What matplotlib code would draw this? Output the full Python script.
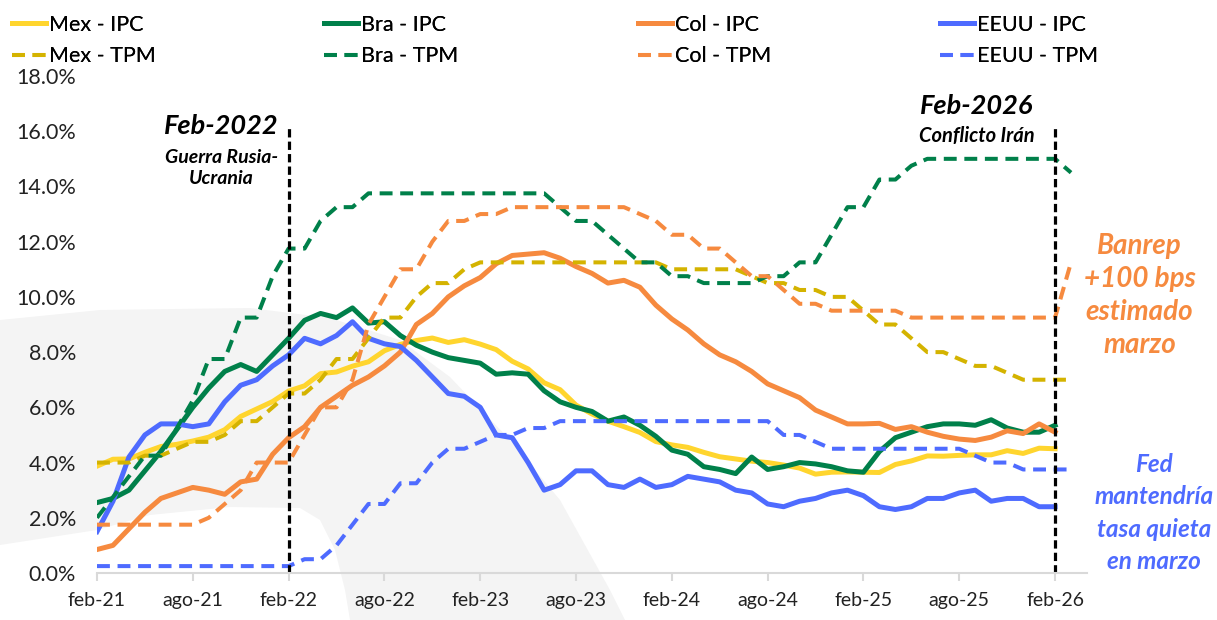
import numpy as np
import matplotlib.pyplot as plt
from matplotlib.patches import Polygon

plt.rcParams['font.family'] = ['Lato', 'DejaVu Sans']

# month index 0 = feb-21 ... 60 = feb-26, 61 = mar-26
tick_labels = ["feb-21", "ago-21", "feb-22", "ago-22", "feb-23", "ago-23",
               "feb-24", "ago-24", "feb-25", "ago-25", "feb-26"]

mex_ipc = [3.87, 4.12, 4.13, 4.37, 4.58, 4.66, 4.78, 4.92, 5.19, 5.67,
           5.94, 6.21, 6.59, 6.78, 7.22, 7.28, 7.49, 7.65, 8.05, 8.28,
           8.42, 8.51, 8.35, 8.45, 8.29, 8.09, 7.67, 7.39, 6.89, 6.64,
           6.08, 5.76, 5.50, 5.30, 5.09, 4.76, 4.64, 4.55, 4.37, 4.21,
           4.13, 4.05, 4.00, 3.91, 3.80, 3.58, 3.65, 3.66, 3.65, 3.64,
           3.93, 4.06, 4.24, 4.23, 4.26, 4.28, 4.28, 4.43, 4.33, 4.52, 4.50]
bra_ipc = [2.55, 2.7, 3.0, 3.7, 4.4, 5.2, 6.0, 6.7, 7.3, 7.55,
           7.3, 7.9, 8.5, 9.15, 9.4, 9.25, 9.6, 9.05, 9.1, 8.6,
           8.25, 8.0, 7.8, 7.7, 7.6, 7.2, 7.25, 7.2, 6.6, 6.2,
           6.0, 5.85, 5.5, 5.65, 5.35, 4.95, 4.45, 4.3, 3.85, 3.75,
           3.6, 4.2, 3.75, 3.85, 4.0, 3.95, 3.85, 3.7, 3.65, 4.4,
           4.9, 5.1, 5.3, 5.4, 5.4, 5.35, 5.55, 5.25, 5.1, 5.1, 5.35]
col_ipc = [0.85, 1.0, 1.6, 2.2, 2.7, 2.9, 3.1, 3.0, 2.85, 3.3,
           3.4, 4.3, 4.9, 5.3, 6.0, 6.4, 6.8, 7.1, 7.5, 8.0,
           9.0, 9.4, 10.0, 10.4, 10.7, 11.2, 11.5, 11.55, 11.6, 11.4,
           11.1, 10.85, 10.5, 10.6, 10.35, 9.7, 9.2, 8.8, 8.3, 7.9,
           7.65, 7.3, 6.85, 6.6, 6.35, 5.9, 5.65, 5.4, 5.4, 5.42,
           5.2, 5.3, 5.1, 4.95, 4.85, 4.8, 4.92, 5.15, 5.05, 5.4, 5.1]
eeuu_ipc = [1.5, 2.6, 4.2, 5.0, 5.4, 5.4, 5.3, 5.4, 6.2, 6.8,
            7.0, 7.5, 7.9, 8.5, 8.3, 8.6, 9.1, 8.5, 8.3, 8.2,
            7.7, 7.1, 6.5, 6.4, 6.0, 5.0, 4.9, 4.0, 3.0, 3.2,
            3.7, 3.7, 3.2, 3.1, 3.4, 3.1, 3.2, 3.5, 3.4, 3.3,
            3.0, 2.9, 2.5, 2.4, 2.6, 2.7, 2.9, 3.0, 2.8, 2.4,
            2.3, 2.4, 2.7, 2.7, 2.9, 3.0, 2.6, 2.7, 2.7, 2.4, 2.4]

mex_tpm = ([4.0] * 3 + [4.25] * 2 + [4.5] + [4.75] * 2 + [5.0] + [5.5] * 2 + [6.0]
           + [6.5] * 2 + [7.0] + [7.75] * 2 + [8.5] + [9.25] * 2 + [10.0] + [10.5] * 2
           + [11.0] + [11.25] * 12 + [11.0] * 5 + [10.75] + [10.5] * 2 + [10.25] * 2
           + [10.0] * 2 + [9.5] + [9.0] * 2 + [8.5] + [8.0] * 2 + [7.75] + [7.5] * 2
           + [7.25] + [7.0] * 4)
bra_tpm = ([2.0, 2.75, 3.5, 4.25, 4.25, 5.25, 6.25, 7.75, 7.75, 9.25, 9.25, 10.75,
            11.75, 11.75, 12.75, 13.25, 13.25] + [13.75] * 12
           + [13.25, 12.75, 12.75, 12.25, 11.75, 11.25, 11.25, 10.75, 10.75]
           + [10.5] * 4 + [10.75, 10.75, 11.25, 11.25, 12.25, 13.25, 13.25, 14.25, 14.25, 14.75]
           + [15.0] * 9 + [14.5])
col_tpm = ([1.75] * 7 + [2.0, 2.5, 3.0] + [4.0] * 3
           + [5.0, 6.0, 6.0, 7.0, 9.0, 10.0, 11.0, 11.0, 12.0, 12.75, 12.75, 13.0, 13.0]
           + [13.25] * 8
           + [13.0, 12.75, 12.25, 12.25, 11.75, 11.75, 11.25, 10.75, 10.75, 10.25, 9.75, 9.75]
           + [9.5] * 5 + [9.25] * 10 + [11.25])
eeuu_tpm = ([0.25] * 13 + [0.5, 0.5, 1.0, 1.75, 2.5, 2.5, 3.25, 3.25, 4.0, 4.5, 4.5,
                            4.75, 5.0, 5.0, 5.25, 5.25]
            + [5.5] * 14 + [5.0, 5.0, 4.75] + [4.5] * 9 + [4.25, 4.0, 4.0] + [3.75] * 4)

x_ipc = np.arange(len(mex_ipc))
x_tpm = np.arange(len(mex_tpm))

c_mex, c_mex_d = '#FFD52E', '#D4B300'
c_bra = '#00804A'
c_col = '#F68A3F'
c_us = '#4E6BFF'

W, H = 1217, 620
fig = plt.figure(figsize=(W / 100, H / 100), dpi=100)

# light gray watermark swoosh in the background
pts = [(0, 320), (100, 310), (250, 308), (330, 318), (400, 340), (450, 377), (510, 440),
       (560, 500), (610, 590), (625, 620), (350, 620), (345, 590), (335, 550), (320, 520),
       (300, 508), (230, 507), (150, 515), (97, 530), (0, 545)]
fig.patches.append(Polygon([(px / W, 1 - py / H) for px, py in pts], closed=True,
                           transform=fig.transFigure, facecolor='#F4F4F4',
                           edgecolor='none', zorder=-5))

ax = fig.add_axes([97 / W, 1 - 573 / H, (1087 - 97) / W, (573 - 76) / H])
ax.patch.set_alpha(0)

lw_s, lw_d = 3.6, 2.9
dash = (0, (3.2, 1.9))
l1, = ax.plot(x_ipc, mex_ipc, color=c_mex, lw=lw_s, label='Mex - IPC')
l3, = ax.plot(x_ipc, bra_ipc, color=c_bra, lw=lw_s, label='Bra - IPC')
l5, = ax.plot(x_ipc, col_ipc, color=c_col, lw=lw_s, label='Col - IPC')
l7, = ax.plot(x_ipc, eeuu_ipc, color=c_us, lw=lw_s, label='EEUU - IPC')
l2, = ax.plot(x_tpm, mex_tpm, color=c_mex_d, lw=lw_d, ls=dash, label='Mex - TPM')
l4, = ax.plot(x_tpm, bra_tpm, color=c_bra, lw=lw_d, ls=dash, label='Bra - TPM')
l6, = ax.plot(x_tpm, col_tpm, color=c_col, lw=lw_d, ls=dash, label='Col - TPM')
l8, = ax.plot(x_tpm, eeuu_tpm, color=c_us, lw=lw_d, ls=dash, label='EEUU - TPM')

# event lines
ax.plot([12, 12], [0, 16.1], color='black', lw=2.3, ls=(0, (2.6, 1.3)))
ax.plot([60, 60], [0, 16.2], color='black', lw=2.3, ls=(0, (2.6, 1.3)))

ax.set_xlim(0, 62)
ax.set_ylim(0, 18)
ax.set_xticks(np.arange(0, 61, 6))
ax.set_xticklabels(tick_labels)
ax.set_yticks(np.arange(0, 18.1, 2))
ax.set_yticklabels([f"{v:.1f}%" for v in np.arange(0, 18.1, 2)])
for s in ['top', 'right', 'left']:
    ax.spines[s].set_visible(False)
ax.spines['bottom'].set_color('#D9D9D9')
ax.spines['bottom'].set_linewidth(1.5)
ax.tick_params(axis='x', length=6, width=1.5, color='#D9D9D9', labelsize=14,
               labelcolor='#222222', pad=8)
ax.tick_params(axis='y', length=0, labelsize=15.5, labelcolor='#222222', pad=15)

# annotations
ax.text(7.8, 16.2, 'Feb-2022', ha='center', va='center', fontsize=19.5,
        fontweight='bold', style='italic')
ax.text(7.8, 14.66, 'Guerra Rusia-\nUcrania', ha='center', va='center', fontsize=14,
        fontweight='bold', style='italic', linespacing=1.3)
ax.text(55.1, 16.93, 'Feb-2026', ha='center', va='center', fontsize=19.5,
        fontweight='bold', style='italic')
ax.text(55.1, 15.84, 'Conflicto Irán', ha='center', va='center', fontsize=14.5,
        fontweight='bold', style='italic')
ax.text(65.3, 10.05, 'Banrep\n+100 bps\nestimado\nmarzo', ha='center', va='center',
        fontsize=20, fontweight='bold', style='italic', color=c_col, linespacing=1.33,
        clip_on=False)
ax.text(66.2, 2.17, 'Fed\nmantendría\ntasa quieta\nen marzo', ha='center', va='center',
        fontsize=17.5, fontweight='bold', style='italic', color=c_us, linespacing=1.5,
        clip_on=False)

# legend: IPC on first row, TPM on second
xs = [3, 315, 629, 931]
pairs = [(l1, l2), (l3, l4), (l5, l6), (l7, l8)]
for x0, (a, b) in zip(xs, pairs):
    leg = fig.legend(handles=[a, b], loc='upper left', bbox_to_anchor=(x0 / W, 1 - 6 / H),
                     frameon=False, fontsize=15.5, handlelength=1.6, handletextpad=0.15,
                     labelspacing=0.55, borderaxespad=0)
    fig.add_artist(leg)

fig.savefig('out.png', dpi=100)
